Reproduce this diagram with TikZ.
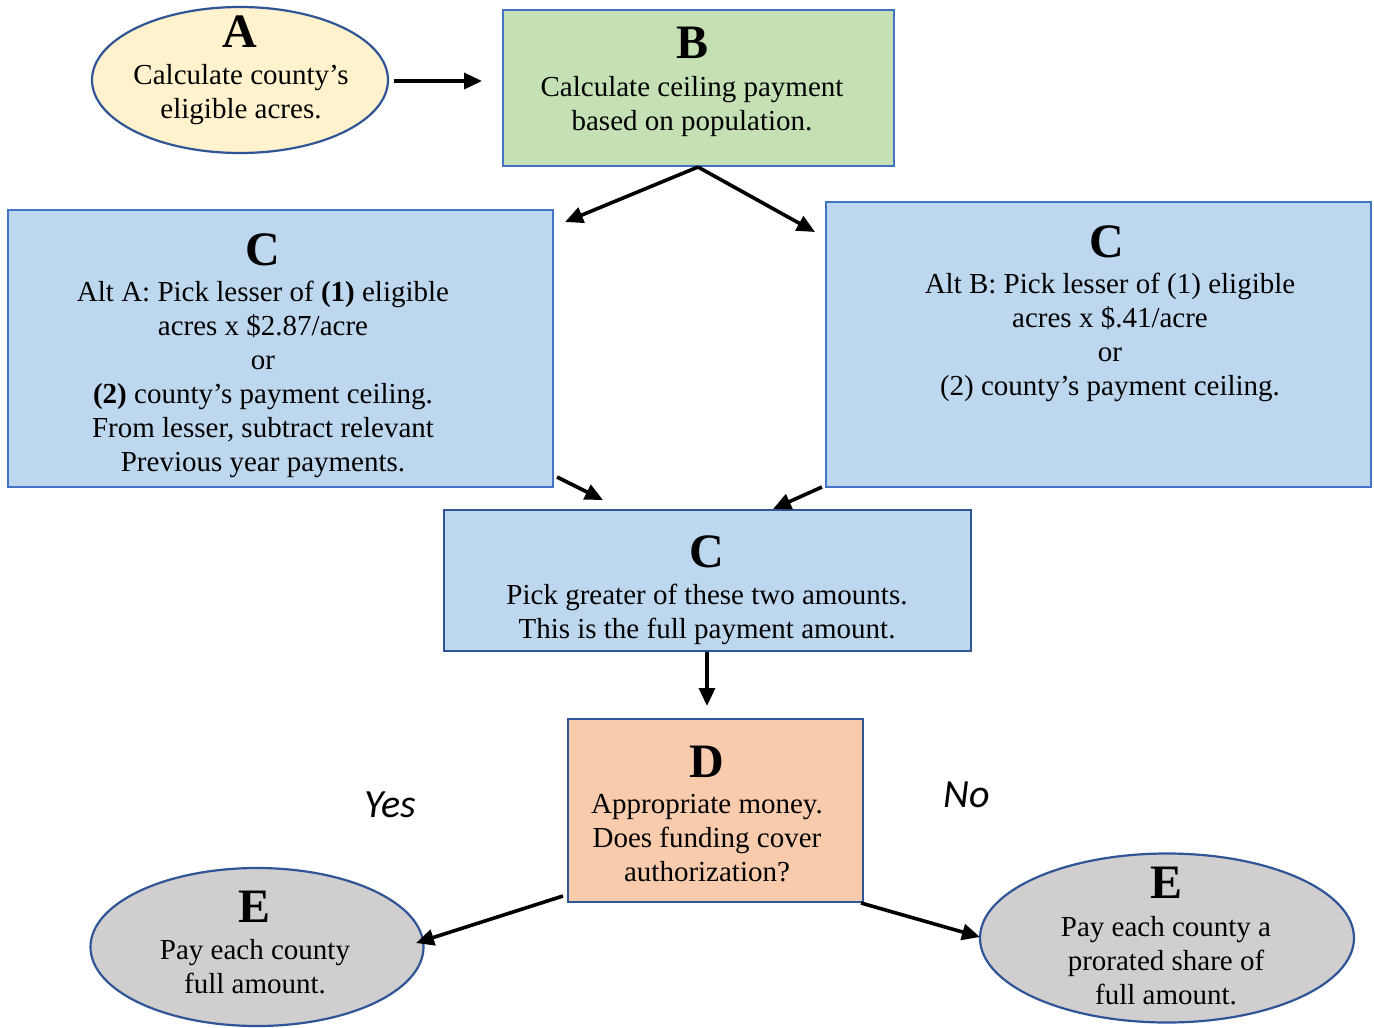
\documentclass[tikz,border=0pt]{standalone}
\usepackage{fontspec}
\setmainfont{Liberation Serif}
\newfontfamily\yesfont{Carlito}
\usetikzlibrary{shapes.geometric,arrows.meta}
\definecolor{fillA}{HTML}{FFF2CC}
\definecolor{fillB}{HTML}{C5E0B4}
\definecolor{fillC}{HTML}{BDD7EE}
\definecolor{fillD}{HTML}{F8CBAD}
\definecolor{fillE}{HTML}{D0CECE}
\definecolor{lineL}{HTML}{4472C4}
\definecolor{lineD}{HTML}{2F5597}
\tikzset{
  rbox/.style={rectangle, draw=lineL, line width=2.2pt, inner sep=0pt},
  ebox/.style={ellipse, draw=lineD, line width=2.2pt, inner sep=0pt},
  ttl/.style={inner sep=0pt, anchor=base, font=\fontsize{48}{50}\selectfont\bfseries},
  body/.style={inner sep=0pt, align=center, font=\fontsize{29}{34}\selectfont},
  lbl/.style={inner sep=0pt, font=\fontsize{40}{42}\selectfont\yesfont\itshape},
  arr/.style={line width=3.6pt, -{Triangle[length=18pt,width=16pt]}}
}
\begin{document}
\begin{tikzpicture}[x=1pt,y=-1pt]
\useasboundingbox[fill=white] (0,0) rectangle (1374,1028);
% shapes
\node[ebox, fill=fillA, minimum width=296pt, minimum height=146pt] (A) at (240,80) {};
\node[rbox, fill=fillB, minimum width=391pt, minimum height=156pt] (B) at (698.5,88) {};
\node[rbox, fill=fillC, minimum width=545pt, minimum height=277pt] (CL) at (280.5,348.5) {};
\node[rbox, fill=fillC, minimum width=545pt, minimum height=285pt] (CR) at (1098.5,344.5) {};
\node[rbox, draw=lineD, fill=fillC, minimum width=527pt, minimum height=141pt] (CM) at (707.5,580.5) {};
\node[rbox, draw=lineD, fill=fillD, minimum width=295pt, minimum height=183pt] (D) at (715.5,810.5) {};
\node[ebox, fill=fillE, minimum width=333pt, minimum height=158pt] (EL) at (257,947) {};
\node[ebox, fill=fillE, minimum width=374pt, minimum height=169pt] (ER) at (1167,938) {};
% titles
\node[ttl] (tA) at (240,47) {A};
\node[ttl] (tB) at (693,58) {B};
\node[ttl] (tCL) at (263,265) {C};
\node[ttl] (tCR) at (1107,257) {C};
\node[ttl] (tCM) at (707,567) {C};
\node[ttl] (tD) at (707,777) {D};
\node[ttl] (tEL) at (255,922) {E};
\node[ttl] (tER) at (1166,898) {E};
% bodies
\node[body] (bA) at (241,95) {\strut Calculate county’s\\ eligible acres.\strut};
\node[body] (bB) at (692,107) {\strut Calculate ceiling payment\\ based on population.\strut};
\node[body] (bCL) at (263,380) {\strut Alt A: Pick lesser of \textbf{(1)} eligible\\ acres x \$2.87/acre\\ or\\ \textbf{(2)} county’s payment ceiling.\\ From lesser, subtract relevant\\ Previous year payments.\strut};
\node[body] (bCR) at (1110,338) {\strut Alt B: Pick lesser of (1) eligible\\ acres x \$.41/acre\\ or\\ (2) county’s payment ceiling.\strut};
\node[body] (bCM) at (707,615) {\strut Pick greater of these two amounts.\\ This is the full payment amount.\strut};
\node[body] (bD) at (707,841) {\strut Appropriate money.\\ Does funding cover\\ authorization?\strut};
\node[body] (bEL) at (255,970) {\strut Pay each county\\ full amount.\strut};
\node[body] (bER) at (1166,964) {\strut Pay each county a\\ prorated share of\\ full amount.\strut};
% labels
\node[lbl] (yes) at (390,805) {Yes};
\node[lbl] (no) at (967,795) {No};
% connector end points
\coordinate (a1) at (394,81);  \coordinate (a2) at (482,81);
\coordinate (b0) at (698,167);
\coordinate (b1) at (565,222); \coordinate (b2) at (815,232);
\coordinate (c1) at (557,477); \coordinate (c2) at (603,500);
\coordinate (c3) at (822,487); \coordinate (c4) at (773,509);
\coordinate (m1) at (707,652); \coordinate (m2) at (707,706);
\coordinate (d1) at (563,896); \coordinate (d2) at (416,943);
\coordinate (d3) at (861,903); \coordinate (d4) at (980,937);
% connectors
\draw[arr] (a1) -- (a2);
\draw[arr] (b0) -- (b1);
\draw[arr] (b0) -- (b2);
\draw[arr] (c1) -- (c2);
\draw[arr] (c3) -- (c4);
\draw[arr] (m1) -- (m2);
\draw[arr] (d1) -- (d2);
\draw[arr] (d3) -- (d4);
\end{tikzpicture}
\end{document}
